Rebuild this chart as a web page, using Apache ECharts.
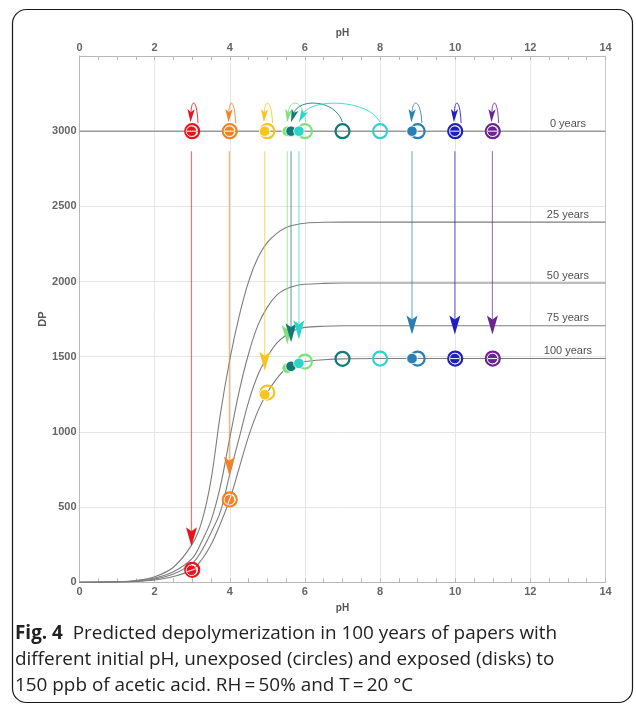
<!DOCTYPE html>
<html>
<head>
<meta charset="utf-8">
<script src="https://cdn.jsdelivr.net/npm/echarts@6/dist/echarts.min.js"></script>
<style>html,body{margin:0;padding:0;background:#fff}#c{width:636px;height:705px}</style>
</head>
<body>
<div id="c"></div>
<script>
// ---------- data ----------
const curvePH = [0, 1, 1.5, 2, 2.5, 3, 3.25, 3.5, 3.75, 4, 4.25, 4.5, 4.75, 5, 5.25, 5.5, 5.75, 6, 6.5, 7, 8, 14];
const dp25  = [0, 4, 12, 37, 100, 254, 400, 680, 1120, 1480, 1770, 2000, 2160, 2260, 2320, 2360, 2378, 2388, 2394, 2395, 2395, 2395];
const dp50  = [0, 3, 9, 28, 70, 159, 270, 410, 640, 960, 1270, 1520, 1710, 1830, 1910, 1950, 1972, 1982, 1988, 1990, 1990, 1990];
const dp75  = [0, 2, 7, 22, 55, 126, 210, 330, 470, 720, 960, 1200, 1380, 1500, 1590, 1645, 1680, 1695, 1703, 1706, 1706, 1706];
const dp100 = [0, 2, 5, 15, 38, 83, 150, 250, 390, 551, 760, 970, 1140, 1262, 1355, 1420, 1450, 1468, 1480, 1486, 1488, 1488];

const dp0 = 3000;                       // 0 years
const line0PH = [0, 14];
const pHUnexposed = [3, 4, 5, 6, 7, 8, 9, 10, 11];
const pHExposed   = [2.98, 3.99, 4.93, 5.53, 5.63, 5.84, 8.85, 9.99, 10.99];
const dp100Unexposed = [83, 551, 1262, 1468, 1486, 1488, 1488, 1488, 1488];
const dp100Exposed   = [80, 549, 1248, 1424, 1436, 1456, 1488, 1488, 1488];

const yearLabels = ['0 years', '25 years', '50 years', '75 years', '100 years'];
const yearLabelDP = [3000, 2395, 1990, 1706, 1488];
const yearLabelPH = 13.0;

const xTicks = {min: 0, max: 14, interval: 2};
const yTicks = {min: 0, max: 3500, interval: 500};

// ---------- styles ----------
const COLORS = ['#e8141c', '#f28226', '#f6c61e', '#80e07c', '#117a76', '#29d6c9', '#2a7fb3', '#1e1fc2', '#6a2590'];
const FONT = 'Liberation Sans, Arial, sans-serif';
const CAPFONT = 'Open Sans, sans-serif';
const CAPSIZE = 18.9;

const chart = echarts.init(document.getElementById('c'), null, {renderer: 'canvas'});

function pairs(xs, ys) { return xs.map((x, i) => [x, ys[i]]); }

const curveSeries = [dp25, dp50, dp75, dp100].map(d => ({
  type: 'line', data: pairs(curvePH, d), smooth: 0.35,
  showSymbol: false, silent: true, z: 2,
  lineStyle: {color: '#7d7d7d', width: 1.1}
}));

const zeroLine = {
  type: 'line', data: line0PH.map(p => [p, dp0]), showSymbol: false, silent: true, z: 2,
  lineStyle: {color: '#9a9a9a', width: 1.6}
};

function norm(v) { const l = Math.hypot(v[0], v[1]) || 1; return [v[0] / l, v[1] / l]; }

// vertical arrows: exposed paper, 0 years -> 100 years
const vArrows = {
  type: 'custom', silent: true, z: 4,
  data: pHExposed.map((p, i) => [p, dp0, dp100Exposed[i], i]),
  renderItem(params, api) {
    const i = api.value(3);
    const a = api.coord([api.value(0), api.value(1)]);
    const b = api.coord([api.value(0), api.value(2)]);
    const x = a[0], y0 = a[1] + 20, tip = b[1] - 24, L = 19, W = 5.5, N = 4;
    return {type: 'group', children: [
      {type: 'line', shape: {x1: x, y1: y0, x2: x, y2: tip - L + N},
       style: {stroke: COLORS[i], lineWidth: 1.2, opacity: 0.6}},
      {type: 'polygon', shape: {points: [[x, tip], [x - W, tip - L], [x, tip - L + N], [x + W, tip - L]]},
       style: {fill: COLORS[i]}}
    ]};
  }
};

// arc arrows at 0 years: unexposed pH -> exposed pH
const arcArrows = {
  type: 'custom', silent: true, z: 6,
  data: pHUnexposed.map((p, i) => [p, pHExposed[i], dp0, i]),
  renderItem(params, api) {
    const i = api.value(3);
    const a = api.coord([api.value(0), api.value(2)]);
    const b = api.coord([api.value(1), api.value(2)]);
    const d = b[0] - a[0];
    const s = Math.max(0, 1 - Math.abs(d) / 20);
    const S = [a[0] + 6 * s, a[1] - 8 - (1 - s)];
    const T = [b[0] - s, b[1] - 9];
    const dx = T[0] - S[0];
    const cy = a[1] - 32.6;
    const C1 = [S[0] + 0.15 * dx, cy], C2 = [T[0] - 0.15 * dx, cy];
    const u = norm([T[0] - C2[0], T[1] - C2[1]]);
    const n = [-u[1], u[0]];
    const L = 13, W = 3.6;
    const back = [T[0] - u[0] * L, T[1] - u[1] * L];
    const notch = [T[0] - u[0] * (L - 3), T[1] - u[1] * (L - 3)];
    return {type: 'group', children: [
      {type: 'bezierCurve', shape: {x1: S[0], y1: S[1], cpx1: C1[0], cpy1: C1[1], cpx2: C2[0], cpy2: C2[1], x2: notch[0], y2: notch[1]},
       style: {stroke: COLORS[i], lineWidth: 1, fill: null, opacity: 0.85}},
      {type: 'polygon', shape: {points: [T, [back[0] + n[0] * W, back[1] + n[1] * W], notch, [back[0] - n[0] * W, back[1] - n[1] * W]]},
       style: {fill: COLORS[i]}}
    ]};
  }
};

const circles = {
  type: 'scatter', symbol: 'circle', symbolSize: 14, silent: true, z: 5,
  itemStyle: {color: 'rgba(255,255,255,0)', borderWidth: 2.2, opacity: 1},
  data: pHUnexposed.map((p, i) => ({value: [p, dp0], itemStyle: {borderColor: COLORS[i]}}))
    .concat(pHUnexposed.map((p, i) => ({value: [p, dp100Unexposed[i]], itemStyle: {borderColor: COLORS[i]}})))
};

const disks = {
  type: 'scatter', symbol: 'circle', symbolSize: 10.5, silent: true, z: 5,
  itemStyle: {borderColor: '#fff', borderWidth: 0.8, opacity: 1},
  data: pHExposed.map((p, i) => ({value: [p, dp0], itemStyle: {color: COLORS[i]}}))
    .concat(pHExposed.map((p, i) => ({value: [p, dp100Exposed[i]], itemStyle: {color: COLORS[i]}})))
};

// white line through concentric disks
const concentric = [];
pHExposed.forEach((p, i) => {
  if (Math.abs(p - pHUnexposed[i]) < 0.05) {
    concentric.push([p, dp0, 0]);
    concentric.push([p, dp100Exposed[i], 1]);
  }
});
const diskLines = {
  type: 'custom', silent: true, z: 5.5,
  data: concentric,
  renderItem(params, api) {
    const p = api.value(0), v = api.value(1), which = api.value(2);
    const c = api.coord([p, v]);
    let u = [1, 0];
    if (which === 1) {
      let k = 0;
      while (k < curvePH.length - 2 && curvePH[k + 1] <= p) k++;
      const p1 = api.coord([curvePH[k], dp100[k]]), p2 = api.coord([curvePH[k + 1], dp100[k + 1]]);
      u = norm([p2[0] - p1[0], p2[1] - p1[1]]);
    }
    const h = 4.6;
    return {type: 'line', shape: {x1: c[0] - u[0] * h, y1: c[1] - u[1] * h, x2: c[0] + u[0] * h, y2: c[1] + u[1] * h},
            style: {stroke: '#fff', lineWidth: 1.1, opacity: 0.9}};
  }
};

const labels = {
  type: 'scatter', symbolSize: 0, silent: true, z: 7,
  data: yearLabels.map((t, i) => ({name: t, value: [yearLabelPH, yearLabelDP[i]]})),
  label: {show: true, position: 'top', distance: 2, formatter: '{b}', color: '#222', fontSize: 11, fontFamily: FONT}
};

const axisLineStyle = {color: '#b8b8b8', width: 1};
const tickLabel = {color: '#666', fontWeight: 'bold', fontSize: 11, fontFamily: FONT};
const nameStyle = {color: '#555', fontWeight: 'bold', fontSize: 10, fontFamily: FONT};

function xAxis(pos, split) {
  return {
    type: 'value', position: pos, min: xTicks.min, max: xTicks.max, interval: xTicks.interval,
    name: 'pH', nameLocation: 'middle', nameGap: pos === 'top' ? 18 : 21, nameTextStyle: nameStyle,
    nameMoveOverlap: false,
    axisLine: {show: true, onZero: false, lineStyle: axisLineStyle},
    axisTick: {show: true, inside: true, length: 4, lineStyle: axisLineStyle},
    minorTick: {show: true, splitNumber: 4, length: 4, lineStyle: axisLineStyle},
    axisLabel: {margin: pos === 'top' ? 3 : 4.5, ...tickLabel},
    splitLine: {show: split, lineStyle: {color: '#e6e6e6', width: 1}}
  };
}

const option = {
  animation: false,
  backgroundColor: '#fff',
  grid: {left: 79.5, right: 30.5, top: 56, bottom: 122.7, containLabel: false, outerBoundsMode: 'none'},
  xAxis: [xAxis('bottom', true), xAxis('top', false)],
  yAxis: [
    {type: 'value', position: 'left', min: yTicks.min, max: yTicks.max, interval: yTicks.interval,
     name: 'DP', nameLocation: 'middle', nameGap: 31.5, nameMoveOverlap: false,
     nameTextStyle: {...nameStyle, fontSize: 11},
     axisLine: {show: true, onZero: false, lineStyle: axisLineStyle},
     axisTick: {show: false},
     axisLabel: {margin: 3, ...tickLabel, formatter: v => (v === yTicks.max ? '' : String(v))},
     splitLine: {show: true, lineStyle: {color: '#e6e6e6', width: 1}}},
    {type: 'value', position: 'right', min: yTicks.min, max: yTicks.max, interval: yTicks.interval,
     axisLine: {show: true, onZero: false, lineStyle: {color: '#c8c8c8', width: 1}},
     axisTick: {show: false}, axisLabel: {show: false}, splitLine: {show: false}}
  ],
  graphic: [
    {type: 'rect', silent: true, shape: {x: 12.5, y: 9.5, width: 620, height: 693, r: 14},
     style: {fill: 'none', stroke: '#1a1a1a', lineWidth: 1.2}},
    {type: 'text', silent: true, x: 15, y: 634,
     style: {text: '{b|Fig. 4}  Predicted depolymerization in 100 years of papers with', fill: '#222',
             fontSize: CAPSIZE, fontFamily: CAPFONT, verticalAlign: 'middle',
             rich: {b: {fontWeight: 'bold', fontSize: CAPSIZE, fontFamily: CAPFONT, fill: '#222'}}}},
    {type: 'text', silent: true, x: 15, y: 660,
     style: {text: 'different initial pH, unexposed (circles) and exposed (disks) to', fill: '#222',
             fontSize: CAPSIZE, fontFamily: CAPFONT, verticalAlign: 'middle'}},
    {type: 'text', silent: true, x: 15, y: 686,
     style: {text: '150 ppb of acetic acid. RH\u2009=\u200950% and T\u2009=\u200920 \u00b0C', fill: '#222',
             fontSize: CAPSIZE, fontFamily: CAPFONT, verticalAlign: 'middle'}}
  ],
  series: [...curveSeries, zeroLine, vArrows, circles, disks, diskLines, arcArrows, labels]
};
chart.setOption(option);
</script>
</body>
</html>
